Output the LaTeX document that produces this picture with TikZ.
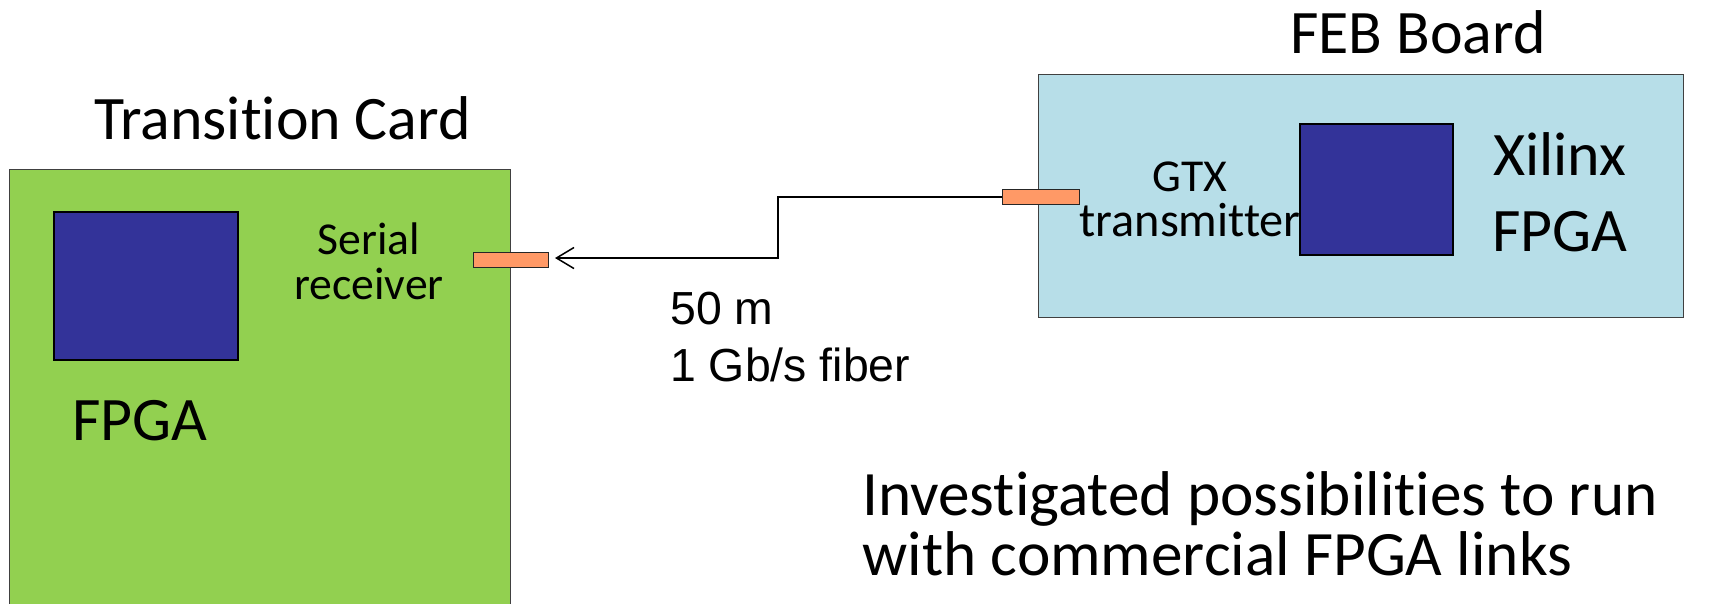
\documentclass[tikz,border=0pt]{standalone}
\usepackage{fontspec}
\setmainfont{Carlito}[Ligatures=NoCommon]
\newfontfamily\arialfont{Liberation Sans}
\usetikzlibrary{arrows.meta}
\definecolor{cardgreen}{HTML}{92D050}
\definecolor{febblue}{HTML}{B7DEE8}
\definecolor{chipblue}{HTML}{333399}
\definecolor{portorange}{HTML}{FF9966}
\tikzset{
  board/.style={draw=black!75, line width=0.8pt, inner sep=0pt, anchor=north west},
  chip/.style={draw=black, fill=chipblue, line width=0.9pt, inner sep=0pt, anchor=north west},
  port/.style={draw=black!85, fill=portorange, line width=0.8pt, inner sep=0pt, anchor=north west,
               minimum height=0.30cm},
  title/.style={font=\fontsize{35.2}{42}\selectfont, inner sep=0pt, anchor=base},
  biglabel/.style={font=\fontsize{35.2}{43.1}\selectfont, inner sep=0pt, anchor=base, align=center},
  smalllabel/.style={font=\fontsize{26}{25.5}\selectfont, inner sep=0pt, anchor=base, align=center},
  fiber/.style={line width=0.85pt, -{Straight Barb[length=10pt,width=12pt]}},
}
\begin{document}
\begin{tikzpicture}[x=0.02cm, y=-0.02cm]
\useasboundingbox (0,0) rectangle (1717,603);

% Transition card (left); multi-line labels are placed by their last baseline
\node[board, fill=cardgreen, minimum width=10.02cm, minimum height=9.2cm] (card) at (9,169) {};
\node[chip, minimum width=3.68cm, minimum height=2.96cm] (tcfpga) at (53,211) {};
\node[title] (tctitle) at (282.5,139) {Transition Card};
\node[biglabel] (tcfpgalabel) at (140,440) {FPGA};
\node[smalllabel] (rxlabel) at (369,299) {Serial\\receiver};
\node[port, minimum width=1.5cm] (rx) at (473,252) {};

% FEB board (right); the label sits under the chip, which hides its last letter
\node[board, fill=febblue, minimum width=12.9cm, minimum height=4.86cm] (feb) at (1038,74) {};
\node[smalllabel] (txlabel) at (1190,236) {GTX\\\fontsize{27.5}{25.5}\selectfont transmitter};
\node[chip, minimum width=3.06cm, minimum height=2.62cm] (xfpga) at (1299,123) {};
\node[title] (febtitle) at (1418,53) {FEB Board};
\node[biglabel] (xlabel) at (1560,251) {Xilinx\\FPGA};
\node[port, minimum width=1.54cm] (tx) at (1002,189) {};

% Fibre link
\coordinate (tip) at (555,258);
\draw[fiber] (tx.west) -- ++(-224,0) |- (tip);
\node[inner sep=0pt, anchor=base west, align=left, font=\arialfont\fontsize{26.4}{32.3}\selectfont]
  (fiberlabel) at (670,381) {50 m\\1 Gb/s fiber};

% Note
\node[inner sep=0pt, anchor=base west, align=left, font=\fontsize{36}{34}\selectfont]
  (note) at (862,575) {Investigated possibilities to run\\with commercial FPGA links};
\end{tikzpicture}
\end{document}
